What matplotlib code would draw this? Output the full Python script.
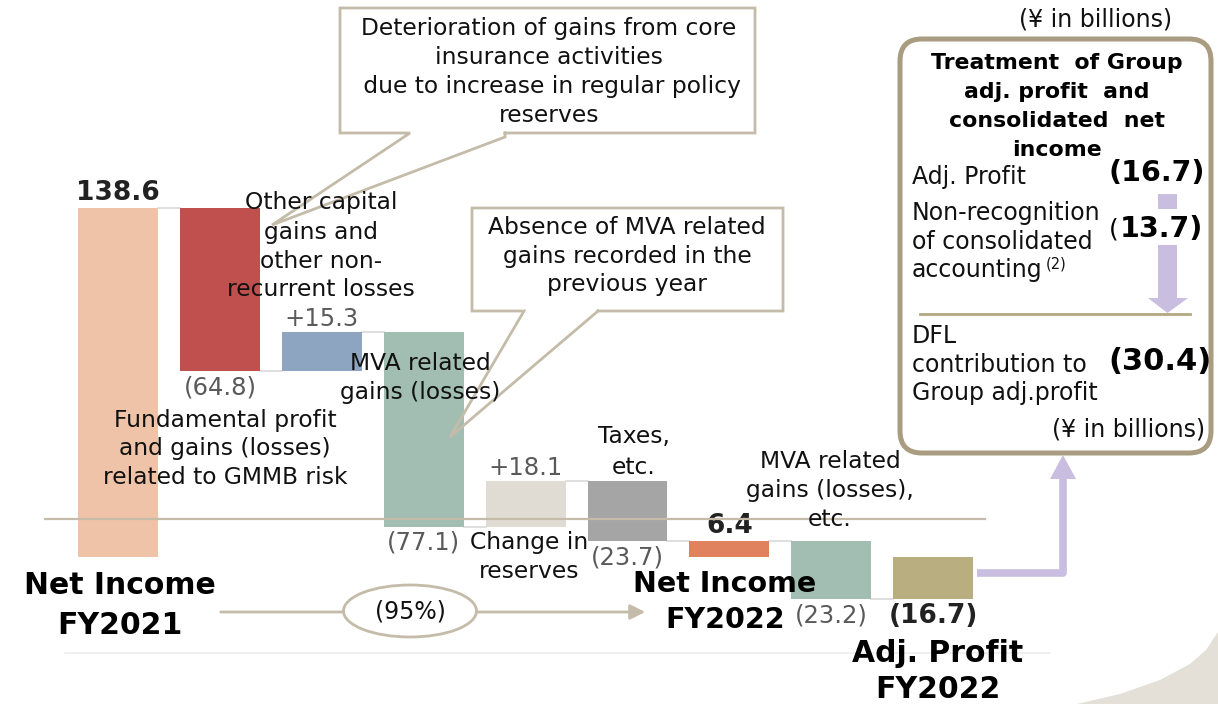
import matplotlib
matplotlib.use("Agg")
import matplotlib.pyplot as plt
from matplotlib.patches import Rectangle, FancyBboxPatch, Ellipse, Polygon

# ---------------- data ----------------
categories = ["Net Income FY2021", "Fundamental profit and gains (losses) related to GMMB risk",
              "Other capital gains and other non-recurrent losses", "MVA related gains (losses)",
              "Change in reserves", "Taxes, etc.", "Net Income FY2022",
              "MVA related gains (losses), etc.", "Adj. Profit FY2022"]
changes = [138.6, -64.8, 15.3, -77.1, 18.1, -23.7, 6.4, -23.2, -16.7]
is_total = [True, False, False, False, False, False, True, False, True]
value_labels = ["138.6", "(64.8)", "+15.3", "(77.1)", "+18.1", "(23.7)", "6.4", "(23.2)", "(16.7)"]
bold_value = [True, False, False, False, False, False, True, False, True]
bar_colors = ["#EFC3A7", "#C0504D", "#8EA5C2", "#A2BEB3", "#E0DCD4", "#A5A5A5",
              "#E1825E", "#A2BEB3", "#B8AE80"]
side_rows = ["Adj. Profit", "Non-recognition\nof consolidated\naccounting", "DFL\ncontribution to\nGroup adj.profit"]
side_values = ["(16.7)", "(13.7)", "(30.4)"]
share_label = "(95%)"

W, H = 1218, 704
FONT = "DejaVu Sans"
plt.rcParams["font.family"] = [FONT]

fig = plt.figure(figsize=(W / 100, H / 100), dpi=100)
fig.patch.set_facecolor("white")

# main data axes (waterfall)
ax = fig.add_axes([0, 0, 1, 1])
x0px, step = 118, 101.9
ax.set_xlim(-x0px / step, (W - x0px) / step)
zero_px, scale = 557, 2.52
ax.set_ylim(-(H - zero_px) / scale, zero_px / scale)
ax.axis("off")

bw = 0.785
run = 0.0
starts, ends = [], []
for c, t in zip(changes, is_total):
    if t:
        b, e = 0.0, c
    else:
        b, e = run, run + c
    run = e
    starts.append(b)
    ends.append(e)

for i, (b, e) in enumerate(zip(starts, ends)):
    ax.bar(i, e - b, bottom=b, width=bw, color=bar_colors[i], zorder=3, linewidth=0)

# connectors
for i in range(len(changes) - 1):
    lvl = ends[i]
    ax.plot([i + bw / 2, i + 1 - bw / 2], [lvl, lvl], color="#D9D9D9", lw=1.2, zorder=2)

# value labels
for i, (b, e) in enumerate(zip(starts, ends)):
    top, bot = max(b, e), min(b, e)
    above = changes[i] > 0
    y = top if above else bot
    off = 1 if above else -3
    va = "bottom" if above else "top"
    if bold_value[i]:
        ax.annotate(value_labels[i], (i, y), xytext=(0, off), textcoords="offset points",
                    ha="center", va=va, fontsize=19, fontweight="bold", color="#222222", zorder=5)
    else:
        ax.annotate(value_labels[i], (i, y), xytext=(0, off), textcoords="offset points",
                    ha="center", va=va, fontsize=17.5, color="#5A5A5A", zorder=5)

# ---------------- overlay (pixel coords) ----------------
ov = fig.add_axes([0, 0, 1, 1])
ov.set_xlim(0, W)
ov.set_ylim(H, 0)
ov.axis("off")
ov.patch.set_alpha(0)

TAN = "#C4BBA9"
BODY = 16.8


def lines(x, ys, txts, size=BODY, weight="normal", ha="center", color="#111111", z=6):
    for y, t in zip(ys, txts):
        ov.text(x, y, t, ha=ha, va="center", fontsize=size, fontweight=weight, color=color, zorder=z)


# decorative bottom-right shape
ov.add_patch(Polygon([(1077, 704), (1120, 694), (1160, 680), (1190, 664), (1206, 650), (1218, 632), (1218, 704)],
                     closed=True, facecolor="#E4DFD7", edgecolor="none", zorder=0))
# thin bottom line
ov.plot([65, 1050], [653, 653], color="#EEEEEE", lw=1.2, zorder=1)
# tan horizontal line
ov.plot([45, 985], [519, 519], color=TAN, lw=1.6, zorder=4)

# callout 1
ov.add_patch(Rectangle((340, 8), 415, 125, facecolor="white", edgecolor="none", zorder=4))
ov.plot([505, 755, 755, 340, 340, 410, 272, 505, 505], [133, 133, 8, 8, 133, 133, 225, 137, 133],
        color=TAN, lw=2, zorder=4.5, solid_joinstyle="miter")
lines(549, [28, 58, 86, 116], ["Deterioration of gains from core", "insurance activities",
                                " due to increase in regular policy", "reserves"])
# callout 2
ov.add_patch(Rectangle((472, 208), 311, 103, facecolor="white", edgecolor="none", zorder=4))
ov.plot([598, 783, 783, 472, 472, 524, 450, 598], [311, 311, 208, 208, 311, 311, 437, 311],
        color=TAN, lw=2, zorder=4.5, solid_joinstyle="miter")
lines(627, [227, 257, 285], ["Absence of MVA related", "gains recorded in the", "previous year"])

# category labels
lines(321, [203, 233, 261, 290], ["Other capital", "gains and", "other non-", "recurrent losses"])
lines(225, [420, 449, 478], ["Fundamental profit", "and gains (losses)", "related to GMMB risk"])
lines(420, [364, 393], ["MVA related", "gains (losses)"])
lines(529, [542, 572], ["Change in", "reserves"])
lines(634, [437, 467], ["Taxes,", "etc."])
lines(830, [462, 491, 520], ["MVA related", "gains (losses),", "etc."])

# big labels
lines(120, [585, 625], ["Net Income", "FY2021"], size=21.5, weight="bold", color="black")
lines(725, [584, 620], ["Net Income", "FY2022"], size=20.5, weight="bold", color="black")
lines(938, [653, 690], ["Adj. Profit", "FY2022"], size=21.5, weight="bold", color="black")

# share arrow
ov.annotate("", xy=(648, 612), xytext=(218, 612),
            arrowprops=dict(arrowstyle="-|>,head_length=0.9,head_width=0.45", color=TAN, lw=2), zorder=4)
ov.add_patch(Ellipse((410, 611), 133, 52, facecolor="white", edgecolor=TAN, lw=2, zorder=5))
ov.text(410, 612, share_label, ha="center", va="center", fontsize=17, color="#111111", zorder=6)

# right box
BOXC = "#A99C80"
ov.add_patch(FancyBboxPatch((900, 39), 311, 414, boxstyle="round,pad=0,rounding_size=22",
                            facecolor="white", edgecolor=BOXC, lw=3.6, zorder=4))
ov.text(1096, 20, "(¥ in billions)", ha="center", va="center", fontsize=17, color="#111111", zorder=6)
lines(1057, [63, 92, 121, 150], ["Treatment  of Group", "adj. profit  and", "consolidated  net", "income"],
      size=15.8, weight="bold", color="black")
RS = 17
lines(912, [177], [side_rows[0]], size=RS, ha="left")
lines(912, [213, 242, 270], side_rows[1].split("\n"), size=RS, ha="left")
ov.text(1046, 264, "(2)", ha="left", va="center", fontsize=10.5, color="#111111", zorder=6)
lines(912, [336, 365, 393], side_rows[2].split("\n"), size=RS, ha="left")
ov.text(1205, 173, side_values[0], ha="right", va="center", fontsize=20.5, fontweight="bold", color="black", zorder=6)
ov.text(1203, 229, side_values[1][1:], ha="right", va="center", fontsize=20.5, fontweight="bold", color="black", zorder=6)
ov.text(1109, 229, "(", ha="left", va="center", fontsize=18, color="black", zorder=6)
ov.text(1212, 362, side_values[2], ha="right", va="center", fontsize=22, fontweight="bold", color="black", zorder=6)
ov.text(1205, 430, "(¥ in billions)", ha="right", va="center", fontsize=17, color="#111111", zorder=6)

PURP = "#C9BEDF"
ov.add_patch(Rectangle((1158, 194), 19, 15, facecolor=PURP, edgecolor="none", zorder=5))
ov.add_patch(Polygon([(1158, 245), (1177, 245), (1177, 298), (1188, 298), (1167.5, 313),
                      (1148, 298), (1158, 298)], closed=True, facecolor=PURP, edgecolor="none", zorder=5))
ov.plot([920, 1190], [314, 314], color="#B3A880", lw=2, zorder=5)

# purple connector from Adj. Profit bar to box
ov.plot([977, 1063, 1063], [573, 573, 478], color=PURP, lw=5.5, zorder=4,
        solid_joinstyle="round", solid_capstyle="butt")
ov.add_patch(Polygon([(1050, 479), (1076, 479), (1063, 455)], closed=True, facecolor=PURP,
                     edgecolor="none", zorder=4))

fig.savefig("out.png", dpi=100, facecolor="white")
